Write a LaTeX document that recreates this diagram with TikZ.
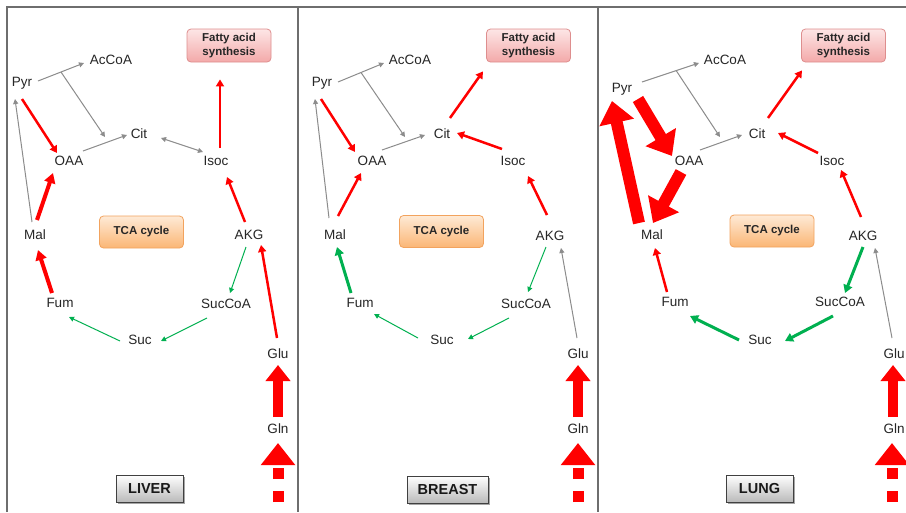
\documentclass[tikz,border=0pt]{standalone}
\usepackage{fontspec}
\setmainfont{Liberation Sans}
\usetikzlibrary{arrows.meta,shadows}

\definecolor{rd}{HTML}{FF0000}
\definecolor{gn}{HTML}{00B050}
\definecolor{gy}{HTML}{8C8C8C}
\definecolor{ink}{HTML}{262626}
\definecolor{framegray}{HTML}{6E6E6E}
\definecolor{fastop}{HTML}{FDE6E6}
\definecolor{fasbot}{HTML}{F3A9A9}
\definecolor{fasedge}{HTML}{DE8E8E}
\definecolor{tcatop}{HTML}{FEEAD6}
\definecolor{tcabot}{HTML}{FBB675}
\definecolor{tcaedge}{HTML}{F2A35E}

\tikzset{
  met/.style={font=\fontsize{13.5}{15}\selectfont, text=ink, inner sep=0pt,
              text height=9.7pt, text depth=0pt},
  fasbox/.style={draw=fasedge, line width=0.8pt, rounded corners=4pt,
                 top color=fastop, bottom color=fasbot,
                 minimum width=84pt, minimum height=33pt, inner sep=0pt,
                 align=center, text=ink,
                 font=\bfseries\fontsize{11.5}{13.5}\selectfont},
  tcabox/.style={draw=tcaedge, line width=0.8pt, rounded corners=4pt,
                 top color=tcatop, bottom color=tcabot,
                 minimum width=84pt, minimum height=32pt, inner sep=0pt,
                 text=ink, font=\bfseries\fontsize{11.5}{13.5}\selectfont},
  tagbox/.style={draw=black!75, line width=0.8pt,
                 top color=white, bottom color=black!27,
                 minimum height=27pt, inner sep=0pt, text=black!90,
                 font=\bfseries\fontsize{14.5}{16}\selectfont,
                 drop shadow={shadow xshift=1.5pt, shadow yshift=-1.5pt,
                              opacity=0.35, fill=black}},
  framerule/.style={draw=framegray, line width=1.6pt},
  gyarr/.style={draw=gy, line width=1pt, -{Triangle[width=5pt,length=5pt]}},
  gydbl/.style={draw=gy, line width=1pt,
                {Triangle[width=5pt,length=5pt]}-{Triangle[width=5pt,length=5pt]}},
  grnthin/.style={draw=gn, line width=1pt, -{Triangle[width=5pt,length=5pt]}},
  grnthk/.style={draw=gn, line width=3pt, -{Triangle[width=9pt,length=8pt]}},
  redmed/.style={draw=rd, line width=2.5pt, -{Triangle[width=8pt,length=7pt]}},
  redthk/.style={draw=rd, line width=4pt, -{Triangle[width=11pt,length=10pt]}},
  redhuge/.style={draw=rd, line width=12pt, -{Triangle[width=34pt,length=22pt]}},
  blockarr/.style={draw=rd, line width=10pt, -{Triangle[width=24pt,length=16pt]}},
  dashblock/.style={draw=rd, line width=11pt, dash pattern=on 11pt off 12pt,
                    -{Triangle[width=33pt,length=22pt]}},
}

\begin{document}
\begin{tikzpicture}[x=1pt,y=-1pt]
\useasboundingbox (0,0) rectangle (906,512);
\fill[white] (0,0) rectangle (906,512);

% panel frames
\draw[framerule] (7,512) -- (7,7) -- (906,7);
\draw[framerule] (298,7) -- (298,512);
\draw[framerule] (598,7) -- (598,512);

% ---------------- liver ----------------
\begin{scope}
\node[met] (a-pyr)    at (22,82)   {Pyr};
\node[met] (a-accoa)  at (111,60)  {AcCoA};
\node[met] (a-cit)    at (139,134) {Cit};
\node[met] (a-oaa)    at (69,161)  {OAA};
\node[met] (a-isoc)   at (216,161) {Isoc};
\node[met] (a-mal)    at (35,235)  {Mal};
\node[met] (a-akg)    at (249,235) {AKG};
\node[met] (a-fum)    at (60,303)  {Fum};
\node[met] (a-succoa) at (226,304) {SucCoA};
\node[met] (a-suc)    at (140,340) {Suc};
\node[met] (a-glu)    at (278,354) {Glu};
\node[met] (a-gln)    at (278,429) {Gln};
\node[fasbox] (a-fas) at (229,45.5) {Fatty acid\\synthesis};
\node[tcabox] (a-tca) at (141.5,232) {TCA cycle};
\node[tagbox, minimum width=67pt] (a-tag) at (149.5,488.5) {LIVER};

\draw[gyarr] ([shift={(16,-1)}]a-pyr.center) -- coordinate[pos=0.5] (a-br) ([shift={(-27,3)}]a-accoa.center);
\draw[gyarr] (a-br) -- ([shift={(-34,3)}]a-cit.center);
\draw[gyarr] ([shift={(14,-10)}]a-oaa.center) -- ([shift={(-12,1)}]a-cit.center);
\draw[gydbl] ([shift={(22,4)}]a-cit.center) -- ([shift={(-13,-9)}]a-isoc.center);
\draw[redmed] ([shift={(4,-13)}]a-isoc.center) -- ([shift={(-9,17)}]a-fas.south);
\draw[redmed] ([shift={(0,17)}]a-pyr.center) -- ([shift={(-12,-8)}]a-oaa.center);
\draw[gyarr] ([shift={(-3,-13)}]a-mal.center) -- ([shift={(-7,17)}]a-pyr.center);
\draw[redthk] ([shift={(2,-15)}]a-mal.center) -- ([shift={(-16,12)}]a-oaa.center);
\draw[redmed] ([shift={(-4,-13)}]a-akg.center) -- ([shift={(11,16)}]a-isoc.center);
\draw[redthk] ([shift={(-8,-10)}]a-fum.center) -- ([shift={(3,15)}]a-mal.center);
\draw[grnthin] ([shift={(-3,12)}]a-akg.center) -- ([shift={(4,-11)}]a-succoa.center);
\draw[grnthin] ([shift={(-19,14)}]a-succoa.center) -- ([shift={(21,1)}]a-suc.center);
\draw[grnthin] ([shift={(-20,1)}]a-suc.center) -- ([shift={(9,14)}]a-fum.center);
\draw[redmed] ([shift={(-1,-16)}]a-glu.center) -- ([shift={(12,10)}]a-akg.center);
\draw[blockarr] ([shift={(0,-12)}]a-gln.center) -- ([shift={(0,11)}]a-glu.center);
\coordinate (a-src) at (278,502);
\draw[dashblock] (a-src) -- ([shift={(0,14)}]a-gln.center);
\end{scope}

% ---------------- breast ----------------
\begin{scope}[shift={(300,0)}]
\node[met] (b-pyr)    at (22,82)   {Pyr};
\node[met] (b-accoa)  at (110,60)  {AcCoA};
\node[met] (b-cit)    at (142,134) {Cit};
\node[met] (b-oaa)    at (72,161)  {OAA};
\node[met] (b-isoc)   at (213,161) {Isoc};
\node[met] (b-mal)    at (35,235)  {Mal};
\node[met] (b-akg)    at (250,236) {AKG};
\node[met] (b-fum)    at (60,303)  {Fum};
\node[met] (b-succoa) at (226,304) {SucCoA};
\node[met] (b-suc)    at (142,340) {Suc};
\node[met] (b-glu)    at (278,354) {Glu};
\node[met] (b-gln)    at (278,429) {Gln};
\node[fasbox] (b-fas) at (228.5,45.5) {Fatty acid\\synthesis};
\node[tcabox] (b-tca) at (141.5,231.5) {TCA cycle};
\node[tagbox, minimum width=81pt] (b-tag) at (147.5,489.5) {BREAST};

\draw[gyarr] ([shift={(16,0)}]b-pyr.center) -- coordinate[pos=0.5] (b-br) ([shift={(-26,3)}]b-accoa.center);
\draw[gyarr] (b-br) -- ([shift={(-37,3)}]b-cit.center);
\draw[gyarr] ([shift={(10,-11)}]b-oaa.center) -- ([shift={(-17,1)}]b-cit.center);
\draw[redmed] ([shift={(8,-16)}]b-cit.center) -- ([shift={(-45.5,9)}]b-fas.south);
\draw[redmed] ([shift={(-11,-12)}]b-isoc.center) -- ([shift={(15,-1)}]b-cit.center);
\draw[redmed] ([shift={(-1,17)}]b-pyr.center) -- ([shift={(-17,-9)}]b-oaa.center);
\draw[gyarr] ([shift={(-6,-17)}]b-mal.center) -- ([shift={(-7,17)}]b-pyr.center);
\draw[redmed] ([shift={(3,-19)}]b-mal.center) -- ([shift={(-11,12)}]b-oaa.center);
\draw[redmed] ([shift={(-3,-21)}]b-akg.center) -- ([shift={(15,15)}]b-isoc.center);
\draw[grnthk] ([shift={(-9,-10)}]b-fum.center) -- ([shift={(2,12)}]b-mal.center);
\draw[grnthin] ([shift={(-4,11)}]b-akg.center) -- ([shift={(2,-12)}]b-succoa.center);
\draw[grnthin] ([shift={(-17,14)}]b-succoa.center) -- ([shift={(26,-1)}]b-suc.center);
\draw[grnthin] ([shift={(-24,-2)}]b-suc.center) -- ([shift={(14,11)}]b-fum.center);
\draw[gyarr] ([shift={(-1,-16)}]b-glu.center) -- ([shift={(11,12)}]b-akg.center);
\draw[blockarr] ([shift={(0,-12)}]b-gln.center) -- ([shift={(0,11)}]b-glu.center);
\coordinate (b-src) at (278,502);
\draw[dashblock] (b-src) -- ([shift={(0,14)}]b-gln.center);
\end{scope}

% ---------------- lung ----------------
\begin{scope}[shift={(600,0)}]
\node[met] (c-pyr)    at (22,88)   {Pyr};
\node[met] (c-accoa)  at (125,60)  {AcCoA};
\node[met] (c-cit)    at (157,134) {Cit};
\node[met] (c-oaa)    at (89,161)  {OAA};
\node[met] (c-isoc)   at (232,161) {Isoc};
\node[met] (c-mal)    at (52,235)  {Mal};
\node[met] (c-akg)    at (263,236) {AKG};
\node[met] (c-fum)    at (75,302)  {Fum};
\node[met] (c-succoa) at (240,302) {SucCoA};
\node[met] (c-suc)    at (160,340) {Suc};
\node[met] (c-glu)    at (294,354) {Glu};
\node[met] (c-gln)    at (294,429) {Gln};
\node[fasbox] (c-fas) at (243.5,45.5) {Fatty acid\\synthesis};
\node[tcabox] (c-tca) at (172,231) {TCA cycle};
\node[tagbox, minimum width=67pt] (c-tag) at (159.5,488.5) {LUNG};

\draw[gyarr] ([shift={(20,-6)}]c-pyr.center) -- coordinate[pos=0.6] (c-br) ([shift={(-26,3)}]c-accoa.center);
\draw[gyarr] (c-br) -- ([shift={(-37,3)}]c-cit.center);
\draw[gyarr] ([shift={(11,-11)}]c-oaa.center) -- ([shift={(-15,1)}]c-cit.center);
\draw[redmed] ([shift={(11,-16)}]c-cit.center) -- ([shift={(-41.5,8)}]c-fas.south);
\draw[redmed] ([shift={(-14,-8)}]c-isoc.center) -- ([shift={(21,-1)}]c-cit.center);
\draw[redhuge] ([shift={(16,11)}]c-pyr.center) -- ([shift={(-17,-5)}]c-oaa.center);
\draw[redhuge] ([shift={(-8,11)}]c-oaa.center) -- ([shift={(1,-12)}]c-mal.center);
\draw[redhuge] ([shift={(-13,-12)}]c-mal.center) -- ([shift={(-10,13)}]c-pyr.center);
\draw[redmed] ([shift={(-2,-19)}]c-akg.center) -- ([shift={(9,9)}]c-isoc.center);
\draw[redmed] ([shift={(-8,-10)}]c-fum.center) -- ([shift={(3,13)}]c-mal.center);
\draw[grnthk] ([shift={(0,11)}]c-akg.center) -- ([shift={(5,-9)}]c-succoa.center);
\draw[grnthk] ([shift={(-7,14)}]c-succoa.center) -- ([shift={(25,1)}]c-suc.center);
\draw[grnthk] ([shift={(-21,0)}]c-suc.center) -- ([shift={(15,14)}]c-fum.center);
\draw[gyarr] ([shift={(-2,-16)}]c-glu.center) -- ([shift={(12,12)}]c-akg.center);
\draw[blockarr] ([shift={(-1,-12)}]c-gln.center) -- ([shift={(-1,11)}]c-glu.center);
\coordinate (c-src) at (292,502);
\draw[dashblock] (c-src) -- ([shift={(-2,14)}]c-gln.center);
\end{scope}
\end{tikzpicture}
\end{document}
